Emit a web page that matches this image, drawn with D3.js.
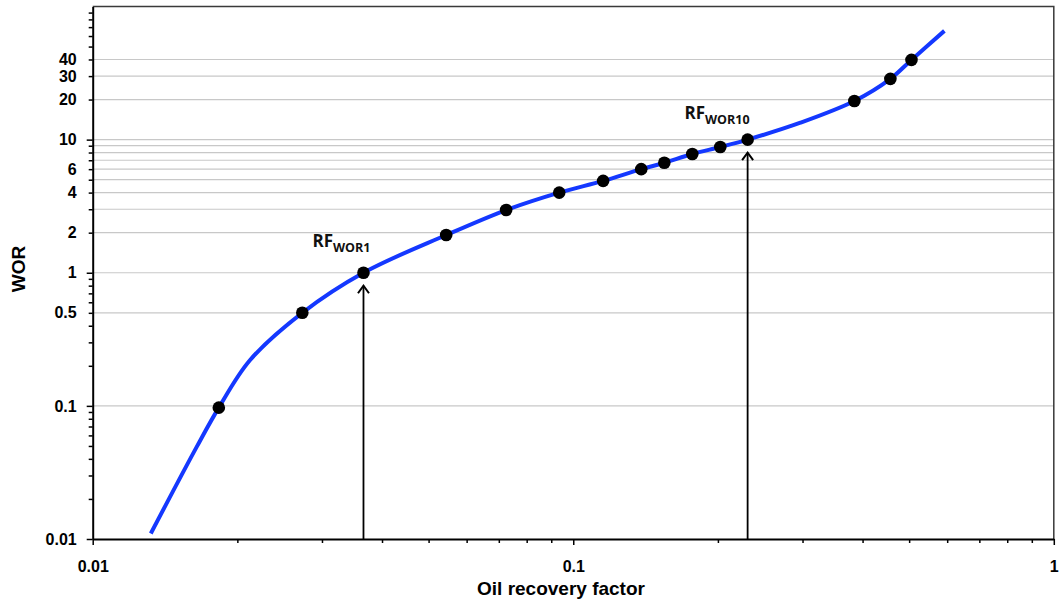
<!doctype html>
<html>
<head>
    <title>WOR vs oil recovery factor</title>
    <script src="https://d3js.org/d3.v7.min.js"></script>
</head>

<style>
    body { margin: 0; background: #fff; }
    .tick text { font: bold 16px "Liberation Sans", Arial, sans-serif; fill: #000; }
    .title { font: bold 19px "Liberation Sans", Arial, sans-serif; }
    .rf { font-family: "Open Sans", sans-serif; font-weight: bold; fill: #111; }
</style>

<body>
<script>

    // measured points (black dots)
    var pointRF  = [0.0183, 0.0273, 0.0366, 0.0544, 0.0725, 0.0935, 0.1154, 0.1385, 0.1547, 0.1769, 0.2023, 0.2306, 0.3846, 0.457, 0.5056];
    var pointWOR = [0.097, 0.5, 1, 1.92, 2.96, 4, 4.9, 6, 6.7, 7.8, 8.8, 10, 19.5, 28.6, 39.7];

    // fitted curve (blue line)
    var curveRF  = [0.01321, 0.01646, 0.0183, 0.02126, 0.0273, 0.0366, 0.0544, 0.0725, 0.0935, 0.1154, 0.1385, 0.1547, 0.1769, 0.2023, 0.2306, 0.297, 0.3846, 0.457, 0.5056, 0.592];
    var curveWOR = [0.011, 0.0492, 0.097, 0.221, 0.5, 1, 1.92, 2.96, 4, 4.9, 6, 6.7, 7.8, 8.8, 10, 13.4, 19.5, 28.6, 39.7, 65.6];

    // arrows and their labels
    var arrowRF  = [0.0366, 0.2306];
    var arrowWOR = [1, 10];
    var arrowSub = ['WOR1', 'WOR10'];

    // axis ticks
    var xLabels = [0.01, 0.1, 1];
    var yLabels = [0.01, 0.1, 0.5, 1, 2, 4, 6, 10, 20, 30, 40];
    var yGrid   = [0.1, 0.5, 1, 2, 3, 4, 5, 6, 7, 8, 9, 10, 20, 30, 40];

    var svgWidth = 1061, svgHeight = 602;
    var plotLeft = 92.7, plotRight = 1053.8, plotTop = 6.5, plotBottom = 539;

    var svg = d3.select('body').append('svg')
                .attr('width', svgWidth)
                .attr('height', svgHeight);

    var x = d3.scaleLog().domain([0.01, 1]).range([plotLeft, plotRight]);
    var y = d3.scaleLog().domain([0.01, 100]).range([plotBottom, plotTop]);

    function minorTicks(lo, hi) {
        var out = [];
        for (var e = lo; e < hi; e++) {
            for (var m = 1; m <= 9; m++) out.push(+(m * Math.pow(10, e)).toPrecision(3));
        }
        return out;
    }
    var xTicks = minorTicks(-2, 0).concat([1]);
    var yTicks = minorTicks(-2, 2);
    function isMajor(v) { return Math.abs(Math.log10(v) - Math.round(Math.log10(v))) < 1e-6; }

    // gridlines
    svg.append('g').selectAll('line')
        .data(yGrid).enter().append('line')
        .attr('x1', plotLeft).attr('x2', plotRight)
        .attr('y1', function(d) { return y(d); })
        .attr('y2', function(d) { return y(d); })
        .attr('stroke', '#c8c8c8')
        .attr('stroke-width', 1.2);

    // top and right frame
    svg.append('path')
        .attr('d', 'M' + plotLeft + ',' + plotTop + 'H' + plotRight + 'V' + plotBottom)
        .attr('fill', 'none')
        .attr('stroke', '#3a3a3a')
        .attr('stroke-width', 1.5);

    // x axis
    var xAxis = d3.axisBottom(x)
                  .tickValues(xTicks)
                  .tickSize(4)
                  .tickSizeOuter(0)
                  .tickPadding(18)
                  .tickFormat(function(d) { return xLabels.indexOf(d) >= 0 ? String(d) : ''; });
    var gx = svg.append('g')
        .attr('transform', 'translate(0,' + plotBottom + ')')
        .call(xAxis);
    gx.select('.domain').attr('stroke', '#000').attr('stroke-width', 2);
    gx.selectAll('.tick line').attr('stroke-width', 1.5)
        .attr('y2', function(d) { return isMajor(d) ? 6 : 4; });

    // y axis
    var yAxis = d3.axisLeft(y)
                  .tickValues(yTicks)
                  .tickSize(4)
                  .tickSizeOuter(0)
                  .tickPadding(12)
                  .tickFormat(function(d) { return yLabels.indexOf(d) >= 0 ? String(d) : ''; });
    var gy = svg.append('g')
        .attr('transform', 'translate(' + plotLeft + ',0)')
        .call(yAxis);
    gy.select('.domain').attr('stroke', '#000').attr('stroke-width', 2);
    gy.selectAll('.tick line').attr('stroke-width', 1.5)
        .attr('x2', function(d) { return isMajor(d) ? -6 : -4; });

    // curve
    var curveData = curveRF.map(function(r, i) { return [r, curveWOR[i]]; });
    var line = d3.line()
                 .x(function(d) { return x(d[0]); })
                 .y(function(d) { return y(d[1]); })
                 .curve(d3.curveCatmullRom.alpha(0.5));
    svg.append('path')
        .datum(curveData)
        .attr('d', line)
        .attr('fill', 'none')
        .attr('stroke', '#1438ff')
        .attr('stroke-width', 4);

    // arrows
    var arrows = svg.append('g').selectAll('g')
        .data(arrowRF.map(function(r, i) { return { rf: r, wor: arrowWOR[i], sub: arrowSub[i] }; }))
        .enter().append('g');
    arrows.append('line')
        .attr('x1', function(d) { return x(d.rf); })
        .attr('x2', function(d) { return x(d.rf); })
        .attr('y1', plotBottom)
        .attr('y2', function(d) { return y(d.wor) + 13; })
        .attr('stroke', '#000')
        .attr('stroke-width', 1.8);
    arrows.append('path')
        .attr('d', function(d) {
            var ax = x(d.rf), ay = y(d.wor) + 13;
            return 'M' + (ax - 5.5) + ',' + (ay + 7.5) + 'L' + ax + ',' + ay + 'L' + (ax + 5.5) + ',' + (ay + 7.5);
        })
        .attr('fill', 'none')
        .attr('stroke', '#000')
        .attr('stroke-width', 2);

    // points
    svg.append('g').selectAll('circle')
        .data(pointRF.map(function(r, i) { return [r, pointWOR[i]]; }))
        .enter().append('circle')
        .attr('cx', function(d) { return x(d[0]); })
        .attr('cy', function(d) { return y(d[1]); })
        .attr('r', 6.3)
        .attr('fill', '#000');

    // RF labels
    var lab = arrows.append('text')
        .attr('class', 'rf')
        .attr('text-anchor', 'end')
        .attr('x', function(d, i) { return x(d.rf) + (i === 0 ? 7 : 2); })
        .attr('y', function(d, i) { return y(d.wor) - (i === 0 ? 26 : 21); });
    lab.append('tspan').attr('font-size', '17px').text('RF');
    lab.append('tspan').attr('font-size', '12.5px').attr('dy', 5).text(function(d) { return d.sub; });

    // axis titles
    svg.append('text')
        .attr('class', 'title')
        .attr('x', 561)
        .attr('y', 595)
        .attr('text-anchor', 'middle')
        .text('Oil recovery factor');

    svg.append('text')
        .attr('class', 'title')
        .attr('transform', 'translate(25,269) rotate(-90)')
        .attr('text-anchor', 'middle')
        .text('WOR');

</script>
</body>
</html>
